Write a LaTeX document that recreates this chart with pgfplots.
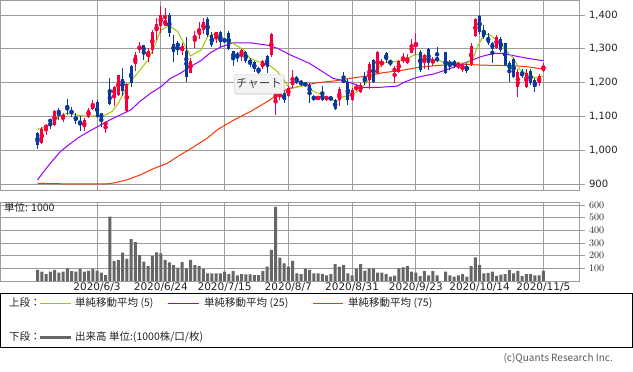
\documentclass[border=0pt]{standalone}
\usepackage{fontspec}
\setmainfont{DejaVu Sans}
\newfontfamily\jp{Noto Sans CJK JP}
\usepackage{pgfplots}
\pgfplotsset{compat=1.18}
\usepackage{pgfplotstable}
\usetikzlibrary{shadows}

\definecolor{cred}{HTML}{F5003D}
\definecolor{cblue}{HTML}{0A3A99}
\definecolor{ma5}{HTML}{99CC00}
\definecolor{ma25}{HTML}{9900FF}
\definecolor{ma75}{HTML}{FF3300}
\definecolor{gridc}{HTML}{9C9C9C}
\definecolor{volc}{HTML}{666666}
\definecolor{txt}{HTML}{222222}

\pgfplotstableread{
i o h l c
1 1022 1068 1020 1063
2 1065 1078 1047 1075
4 1075 1120 1072 1117
6 1095 1110 1083 1105
11 1068 1095 1057 1090
12 1098 1125 1095 1120
13 1122 1148 1120 1138
16 1075 1085 1052 1083
18 1162 1190 1130 1187
19 1165 1223 1160 1223
21 1117 1200 1115 1195
23 1255 1291 1235 1283
24 1298 1320 1288 1308
26 1277 1303 1262 1293
27 1297 1357 1285 1350
28 1352 1390 1327 1373
29 1368 1427 1346 1400
30 1368 1420 1368 1385
34 1295 1318 1282 1307
36 1230 1272 1228 1265
37 1332 1352 1302 1337
38 1340 1380 1330 1360
39 1357 1390 1345 1378
42 1337 1350 1318 1350
48 1282 1300 1265 1296
53 1245 1268 1240 1263
55 1282 1347 1275 1345
56 1150 1185 1105 1172
57 1160 1175 1150 1170
59 1160 1190 1158 1185
60 1193 1238 1183 1208
66 1151 1162 1148 1159
68 1151 1162 1147 1159
71 1149 1187 1131 1181
74 1149 1185 1145 1179
75 1180 1195 1175 1190
76 1174 1200 1170 1194
78 1208 1262 1180 1255
80 1228 1295 1225 1292
81 1252 1270 1245 1265
84 1233 1248 1198 1243
85 1233 1268 1230 1264
86 1267 1287 1257 1272
87 1257 1284 1254 1272
88 1287 1328 1287 1311
89 1309 1346 1282 1313
91 1257 1285 1242 1282
93 1257 1275 1250 1270
99 1247 1260 1240 1257
100 1237 1257 1233 1252
102 1254 1316 1250 1309
103 1337 1390 1335 1387
108 1304 1340 1300 1336
113 1188 1240 1159 1232
115 1188 1242 1185 1228
118 1200 1225 1190 1220
119 1235 1257 1233 1250
}\redtab

\pgfplotstableread{
i o h l c
0 1052 1055 1003 1017
3 1090 1093 1062 1085
5 1120 1125 1090 1107
7 1128 1152 1105 1120
8 1117 1128 1100 1110
9 1100 1112 1078 1088
10 1085 1103 1057 1080
14 1142 1148 1095 1098
15 1110 1112 1068 1093
17 1173 1215 1135 1137
20 1211 1243 1160 1177
22 1248 1252 1188 1198
25 1310 1312 1266 1290
31 1400 1407 1336 1348
32 1315 1341 1262 1292
33 1318 1322 1282 1305
35 1295 1336 1203 1218
40 1387 1393 1335 1340
41 1340 1350 1305 1310
43 1350 1353 1305 1320
44 1328 1332 1318 1322
45 1348 1353 1297 1300
46 1293 1295 1250 1270
47 1285 1292 1262 1278
49 1290 1293 1258 1265
50 1268 1272 1245 1256
51 1262 1265 1232 1240
52 1242 1245 1225 1235
54 1280 1283 1230 1247
58 1170 1175 1140 1150
61 1218 1220 1195 1198
62 1203 1208 1190 1198
63 1198 1203 1188 1193
64 1193 1198 1140 1168
65 1159 1165 1145 1151
67 1165 1190 1147 1150
69 1159 1162 1145 1149
70 1149 1152 1120 1121
72 1208 1233 1198 1203
73 1203 1210 1135 1150
77 1213 1233 1193 1203
79 1267 1270 1200 1203
82 1287 1292 1257 1267
83 1265 1268 1250 1258
90 1292 1297 1232 1238
92 1300 1302 1237 1257
94 1272 1306 1262 1267
96 1290 1292 1225 1230
97 1262 1268 1237 1252
98 1264 1268 1244 1249
101 1250 1255 1230 1235
104 1397 1400 1345 1350
105 1357 1370 1330 1336
106 1336 1347 1310 1318
107 1316 1320 1257 1301
109 1328 1335 1290 1297
110 1316 1318 1250 1252
111 1258 1265 1203 1240
112 1270 1272 1213 1218
114 1230 1240 1215 1220
116 1236 1240 1192 1198
117 1208 1213 1174 1188
}\bluetab

\pgfplotstableread{
i v
0 87
1 74
2 55
3 74
4 87
5 66
6 74
7 100
8 79
9 74
10 95
11 74
12 82
13 95
14 82
15 66
16 47
17 508
18 158
19 166
20 224
21 174
22 331
23 308
24 205
25 153
26 118
27 197
28 226
29 218
30 166
31 147
32 126
33 105
34 150
35 100
36 166
37 126
38 118
39 95
40 60
41 60
42 60
43 60
44 74
45 55
46 79
47 45
48 55
49 53
50 53
51 47
52 47
53 79
54 113
55 245
56 586
57 184
58 139
59 113
60 158
61 60
62 55
63 97
64 87
65 60
66 60
67 55
68 45
69 55
70 134
71 113
72 126
73 60
74 45
75 95
76 134
77 82
78 100
79 100
80 66
81 66
82 55
83 34
84 42
85 100
86 108
87 118
88 74
89 66
90 39
91 79
92 45
93 79
94 45
96 75
97 45
98 35
99 45
100 55
101 35
102 118
103 187
104 126
105 60
106 65
107 75
108 40
109 50
110 55
111 85
112 60
113 80
114 40
115 55
116 55
117 45
118 45
119 80
}\voltab

\pgfplotsset{
  panel/.style={
    scale only axis, width=579pt,
    xmin=-8.71, xmax=127.5,
    axis line style={gridc, line width=1pt},
    grid=major, major grid style={gridc, line width=1pt},
    xtick={14,29,44,59,74,89,104,119},
    ytick pos=right, yticklabel pos=right,
    tick align=outside, major tick length=5pt,
    ytick style={gridc, line width=1pt},
    xtick style={draw=none},
    yticklabel style={font=\fontsize{10}{12}\selectfont, text=txt, xshift=1pt},
    xticklabel style={font=\fontsize{10.5}{12}\selectfont, text=txt, yshift=6.5pt},
  },
  wick/.style={color=#1, only marks, mark=none, error bars/.cd, y dir=both, y explicit, error mark=none,
     error bar style={draw=#1, line width=1pt}},
  body/.style={color=#1, only marks, mark=none, error bars/.cd, y dir=both, y explicit, error mark=none,
     error bar style={draw=#1, line width=3pt}},
}

\begin{document}
\begin{tikzpicture}[x=1pt,y=1pt]
\useasboundingbox (0pt,0pt) rectangle (633pt,-372pt);

\begin{axis}[panel, at={(0.5pt,0pt)}, anchor=north west, height=190pt,
  ymin=883.2, ymax=1444.3,
  ytick={900,1000,1100,1200,1300,1400},
  yticklabels={900,{1,000},{1,100},{1,200},{1,300},{1,400}},
  xticklabels={}]
\addplot[ma75, line width=1pt] coordinates {(0,903) (4,902) (8,901) (12,901) (16,901) (18,904) (21,913) (24.2,928) (27.4,947) (30.5,962) (33.6,987) (36.8,1011) (39.9,1036) (42.3,1061) (46.2,1090) (50.1,1115) (54,1144) (56.4,1164) (58.7,1181) (61.9,1190) (65.8,1200) (69.7,1205) (73.6,1213) (77.5,1220) (81.5,1230) (85.4,1236) (90,1246) (93.3,1250) (97.3,1254) (101.3,1254) (104.3,1252) (109,1251) (112.4,1250) (115.3,1247) (119,1240)};
\addplot[ma25, line width=1pt] coordinates {(0,913) (1.5,938) (3,962) (5.4,997) (7.8,1021) (10,1041) (12.5,1059) (14.8,1075) (17,1090) (19.5,1105) (22,1120) (24,1144) (26.6,1169) (29,1188) (31.3,1213) (33.6,1228) (36,1248) (38.4,1265) (40.7,1289) (43,1305) (46,1318) (50,1318) (54,1311) (56.4,1302) (59.5,1282) (64,1257) (69.5,1213) (72.9,1203) (76.8,1186) (80,1186) (84.6,1190) (86,1200) (88.6,1213) (90,1218) (93.3,1226) (97.3,1243) (101.3,1262) (104.3,1277) (107.4,1287) (109,1287) (112.4,1279) (115.3,1272) (119,1265)};
\addplot[ma5, line width=1pt] coordinates {(0,1063) (1,1065) (3,1075) (4,1085) (5,1100) (7,1110) (9,1105) (11,1102) (14,1102) (16,1105) (17.5,1115) (19,1139) (21,1188) (23.5,1228) (26,1267) (27.5,1307) (29,1356) (31,1368) (33,1351) (35,1302) (36,1279) (38.5,1297) (40,1336) (42,1346) (44,1328) (46,1316) (48.5,1297) (50,1272) (53,1257) (54.5,1252) (56,1238) (57.5,1218) (59,1188) (60,1184) (62,1190) (63,1193) (65,1174) (67,1164) (69,1149) (70.5,1147) (72,1159) (74,1164) (76,1181) (77.5,1203) (79,1223) (81,1257) (83,1262) (85,1264) (87,1272) (89,1284) (90,1282) (92,1269) (94,1267) (96,1259) (99,1259) (101,1257) (102.5,1272) (103.5,1307) (105,1341) (106,1343) (107,1336) (109,1316) (110.5,1292) (112,1272) (113.5,1238) (115.5,1223) (117,1215) (119,1220)};
\addplot[wick=cred] table[x=i, y expr={(\thisrow{h}+\thisrow{l})/2}, y error expr={(\thisrow{h}-\thisrow{l})/2}] {\redtab};
\addplot[body=cred] table[x=i, y expr={(\thisrow{o}+\thisrow{c})/2}, y error expr={max(abs(\thisrow{c}-\thisrow{o})/2,1.6)}] {\redtab};
\addplot[wick=cblue] table[x=i, y expr={(\thisrow{h}+\thisrow{l})/2}, y error expr={(\thisrow{h}-\thisrow{l})/2}] {\bluetab};
\addplot[body=cblue] table[x=i, y expr={(\thisrow{o}+\thisrow{c})/2}, y error expr={max(abs(\thisrow{c}-\thisrow{o})/2,1.6)}] {\bluetab};
\end{axis}

\begin{axis}[panel, at={(0.5pt,-202pt)}, anchor=north west, height=79pt,
  ymin=0, ymax=624,
  ytick={100,200,300,400,500,600},
  xticklabels={2020/6/3,2020/6/24,2020/7/15,2020/8/7,2020/8/31,2020/9/23,2020/10/14,2020/11/5}]
\addplot[ybar, bar width=3pt, fill=volc, draw=none] table[x=i, y=v] {\voltab};
\end{axis}

\node[anchor=west, inner sep=0pt, text=txt, font=\jp\fontsize{10.5}{12}\selectfont] at (4pt,-208pt) {単位: 1000};

% tooltip
\node[draw=black!20, fill=black!5, rounded corners=2pt, minimum width=48pt, minimum height=19pt, inner sep=2pt,
  drop shadow={opacity=0.2, shadow xshift=1pt, shadow yshift=-1.5pt},
  font=\jp\fontsize{11.5}{12}\selectfont, text=black!75] at (259pt,-84pt) {チャート};

% legend box
\draw[black, line width=1pt] (0.5pt,-293pt) rectangle (632.5pt,-347pt);
\begin{scope}[every node/.style={anchor=west, inner sep=0pt, text=txt, font=\jp\fontsize{10.5}{12}\selectfont}]
\node at (9pt,-303pt) {上段：};
\draw[ma5, line width=1pt] (40pt,-303pt) -- (71pt,-303pt);
\node at (75pt,-303pt) {単純移動平均 (5)};
\draw[ma25, line width=1pt] (168pt,-303pt) -- (199pt,-303pt);
\node at (204pt,-303pt) {単純移動平均 (25)};
\draw[ma75, line width=1pt] (313pt,-303pt) -- (343pt,-303pt);
\node at (348pt,-303pt) {単純移動平均 (75)};
\node at (9pt,-337pt) {下段：};
\draw[volc, line width=3pt] (40pt,-337pt) -- (71pt,-337pt);
\node at (75pt,-337pt) {出来高 単位:(1000株/口/枚)};
\end{scope}
\node[anchor=east, inner sep=0pt, text=black!65, font=\jp\fontsize{10}{12}\selectfont] at (613pt,-358pt) {(c)Quants Research Inc.};
\end{tikzpicture}
\end{document}
